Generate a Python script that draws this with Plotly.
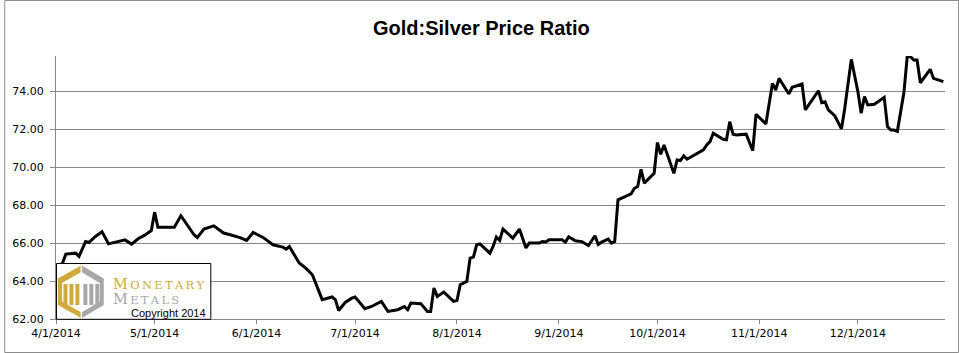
import plotly.graph_objects as go

# ---------------- data ----------------
dates = [
    "2014-04-01", "2014-04-03", "2014-04-04", "2014-04-07", "2014-04-08", "2014-04-10",
    "2014-04-11", "2014-04-13", "2014-04-15", "2014-04-17", "2014-04-22", "2014-04-24",
    "2014-04-26", "2014-04-28", "2014-04-30", "2014-05-01", "2014-05-02", "2014-05-07",
    "2014-05-09", "2014-05-13", "2014-05-14", "2014-05-16", "2014-05-19", "2014-05-22",
    "2014-05-24", "2014-05-27", "2014-05-29", "2014-05-31", "2014-06-03", "2014-06-04",
    "2014-06-06", "2014-06-09", "2014-06-10", "2014-06-11", "2014-06-12", "2014-06-14",
    "2014-06-16", "2014-06-18", "2014-06-21", "2014-06-24", "2014-06-25", "2014-06-26",
    "2014-06-28", "2014-06-30", "2014-07-01", "2014-07-04", "2014-07-06", "2014-07-09",
    "2014-07-11", "2014-07-14", "2014-07-16", "2014-07-17", "2014-07-18", "2014-07-21",
    "2014-07-23", "2014-07-24", "2014-07-25", "2014-07-26", "2014-07-28", "2014-07-31",
    "2014-08-01", "2014-08-02", "2014-08-04", "2014-08-05", "2014-08-06", "2014-08-07",
    "2014-08-08", "2014-08-11", "2014-08-12", "2014-08-13", "2014-08-14", "2014-08-15",
    "2014-08-18", "2014-08-20", "2014-08-22", "2014-08-23", "2014-08-26", "2014-08-27",
    "2014-08-28", "2014-08-29", "2014-09-02", "2014-09-03", "2014-09-04", "2014-09-06",
    "2014-09-08", "2014-09-10", "2014-09-12", "2014-09-13", "2014-09-14", "2014-09-16",
    "2014-09-17", "2014-09-18", "2014-09-19", "2014-09-22", "2014-09-23", "2014-09-24",
    "2014-09-25", "2014-09-26", "2014-09-27", "2014-09-30", "2014-10-01", "2014-10-02",
    "2014-10-03", "2014-10-06", "2014-10-07", "2014-10-08", "2014-10-09", "2014-10-10",
    "2014-10-14", "2014-10-15", "2014-10-16", "2014-10-17", "2014-10-18", "2014-10-21",
    "2014-10-22", "2014-10-23", "2014-10-24", "2014-10-25", "2014-10-28", "2014-10-30",
    "2014-10-31", "2014-11-03", "2014-11-05", "2014-11-06", "2014-11-07", "2014-11-10",
    "2014-11-11", "2014-11-13", "2014-11-14", "2014-11-15", "2014-11-17", "2014-11-19",
    "2014-11-20", "2014-11-21", "2014-11-22", "2014-11-24", "2014-11-26", "2014-11-27",
    "2014-11-29", "2014-12-01", "2014-12-02", "2014-12-03", "2014-12-04", "2014-12-06",
    "2014-12-09", "2014-12-10", "2014-12-11", "2014-12-12", "2014-12-13", "2014-12-15",
    "2014-12-16", "2014-12-17", "2014-12-18", "2014-12-19", "2014-12-20", "2014-12-23",
    "2014-12-24", "2014-12-25", "2014-12-27",
]

ratio = [
    64.60, 64.95, 65.42, 65.47, 65.30, 66.08,
    66.03, 66.35, 66.60, 65.96, 66.17, 65.95,
    66.23, 66.42, 66.66, 67.63, 66.84, 66.84,
    67.44, 66.44, 66.29, 66.74, 66.91, 66.53,
    66.44, 66.29, 66.14, 66.56, 66.30, 66.17,
    65.91, 65.79, 65.68, 65.82, 65.52, 64.95,
    64.68, 64.33, 63.02, 63.16, 63.02, 62.45,
    62.87, 63.10, 63.16, 62.54, 62.66, 62.93,
    62.40, 62.49, 62.66, 62.49, 62.84, 62.81,
    62.40, 62.40, 63.63, 63.19, 63.42, 62.93,
    62.97, 63.81, 63.98, 65.21, 65.26, 65.91,
    65.96, 65.47, 65.82, 66.32, 66.14, 66.74,
    66.26, 66.74, 65.74, 66.00, 66.00, 66.08,
    66.06, 66.17, 66.17, 66.05, 66.33, 66.12,
    66.08, 65.87, 66.38, 65.93, 66.05, 66.21,
    66.00, 66.08, 68.28, 68.49, 68.60, 68.89,
    68.98, 69.89, 69.16, 69.68, 71.30, 70.68,
    71.17, 69.68, 70.38, 70.35, 70.60, 70.42,
    70.82, 70.91, 71.17, 71.35, 71.79, 71.47,
    71.44, 72.40, 71.74, 71.70, 71.74, 70.87,
    72.79, 72.28, 74.42, 74.07, 74.68, 73.86,
    74.21, 74.33, 74.38, 73.02, 73.54, 74.03,
    73.40, 73.45, 73.02, 72.70, 72.02, 73.11,
    75.68, 73.98, 72.84, 73.72, 73.28, 73.32,
    73.68, 72.14, 71.96, 71.96, 71.89, 73.93,
    75.82, 75.82, 75.65, 75.65, 74.45, 75.16,
    74.68, 74.63, 74.51,
]

y_tick_values = [62, 64, 66, 68, 70, 72, 74]
x_tick_values = ["2014-04-01", "2014-05-01", "2014-06-01", "2014-07-01", "2014-08-01",
                 "2014-09-01", "2014-10-01", "2014-11-01", "2014-12-01"]
x_tick_labels = ["4/1/2014", "5/1/2014", "6/1/2014", "7/1/2014", "8/1/2014",
                 "9/1/2014", "10/1/2014", "11/1/2014", "12/1/2014"]

title_text = "Gold:Silver Price Ratio"
logo_word1 = "MONETARY"
logo_word2 = "METALS"
copyright_text = "Copyright 2014"

# ---------------- layout geometry ----------------
W, H = 959, 353
L, R, T, B = 52, 14, 56, 34
PW = W - L - R
PH = H - T - B

GRID = "#898989"
GOLD = "#D1AA3C"
GREY = "#A8A8A8"
THIN = "\u2009"


def px(x):
    return (x - L) / PW


def py(y):
    return (H - B - y) / PH


def path(points):
    return "M " + " L ".join(f"{px(a):.5f},{py(b):.5f}" for a, b in points) + " Z"


def spaced_word(word, big, color):
    return (f"<span style='color:{color}'><span style='font-size:{big}px'>{word[0]}</span>"
            + THIN + THIN.join(word[1:]) + "</span>")


fig = go.Figure()
fig.add_trace(go.Scatter(
    x=dates, y=ratio, mode="lines",
    line=dict(color="black", width=3),
    hoverinfo="x+y", showlegend=False,
))

shapes = []
# outer chart border
shapes.append(dict(type="rect", xref="paper", yref="paper",
                   x0=px(0.5), x1=px(958.5), y0=py(352.5), y1=py(0.5),
                   line=dict(color="#8c8c8c", width=1), layer="above"))
# logo box
shapes.append(dict(type="rect", xref="paper", yref="paper",
                   x0=px(52.5), x1=px(207.5), y0=py(319.3), y1=py(263.5),
                   fillcolor="white", line=dict(color="black", width=1), layer="above"))
# logo hexagon halves
shapes.append(dict(type="path", xref="paper", yref="paper",
                   path=path([(77, 265.5), (54, 278.5), (54, 305), (77, 318)]),
                   fillcolor=GOLD, line=dict(width=0), layer="above"))
shapes.append(dict(type="path", xref="paper", yref="paper",
                   path=path([(78, 265.5), (100, 278.5), (100, 305), (78, 318)]),
                   fillcolor=GREY, line=dict(width=0), layer="above"))
# inner white hexagon region (forms the frame)
shapes.append(dict(type="path", xref="paper", yref="paper",
                   path=path([(77.5, 272), (58, 283), (58, 301.5), (77.5, 312.5), (96, 301.5), (96, 283)]),
                   fillcolor="white", line=dict(width=0), layer="above"))
# vertical bars forming the "M M"
for (x0, x1, c) in [(59.5, 63.5, GOLD), (65.5, 69.5, GOLD), (71.5, 75.5, GOLD),
                    (79.5, 83.5, GREY), (85.5, 89.5, GREY), (91.5, 95.5, GREY)]:
    shapes.append(dict(type="rect", xref="paper", yref="paper",
                       x0=px(x0), x1=px(x1), y0=py(305), y1=py(284),
                       fillcolor=c, line=dict(width=0), layer="above"))
# seam between halves
shapes.append(dict(type="rect", xref="paper", yref="paper",
                   x0=px(76.8), x1=px(78.2), y0=py(318.5), y1=py(265),
                   fillcolor="white", line=dict(width=0), layer="above"))

annotations = [
    dict(xref="paper", yref="paper", x=px(479.5), y=py(28), xanchor="center", yanchor="middle",
         text=f"<b>{title_text}</b>", showarrow=False,
         font=dict(family="Liberation Sans, Arial, sans-serif", size=20, color="black")),
    dict(xref="paper", yref="paper", x=px(108), y=py(291), xanchor="left", yanchor="middle",
         align="left", borderpad=0,
         text=spaced_word(logo_word1, 14.5, GOLD) + "<br>" + spaced_word(logo_word2, 14.5, GREY),
         showarrow=False,
         font=dict(family="DejaVu Serif, serif", size=11.5, color=GOLD)),
    dict(xref="paper", yref="paper", x=px(204), y=py(312.5), xanchor="right", yanchor="middle",
         text=copyright_text, showarrow=False, borderpad=0,
         font=dict(family="Liberation Sans, Arial, sans-serif", size=11, color="black")),
]

fig.update_layout(
    width=W, height=H,
    margin=dict(l=L, r=R, t=T, b=B, pad=0),
    paper_bgcolor="white", plot_bgcolor="white",
    showlegend=False,
    shapes=shapes,
    annotations=annotations,
    font=dict(family="DejaVu Sans, Verdana, sans-serif", size=11, color="black"),
)

fig.update_xaxes(
    type="date",
    range=["2014-04-01", "2014-12-27 12:00"],
    tickmode="array", tickvals=x_tick_values, ticktext=x_tick_labels,
    showgrid=False, zeroline=False,
    showline=True, linecolor=GRID, linewidth=1,
    ticks="outside", ticklen=4, tickcolor=GRID, tickwidth=1,
    tickfont=dict(family="DejaVu Sans, Verdana, sans-serif", size=11, color="black"),
)

fig.update_yaxes(
    range=[62, 75.86],
    tickmode="array", tickvals=y_tick_values,
    tickformat=".2f",
    showgrid=True, gridcolor=GRID, gridwidth=1,
    zeroline=False,
    showline=True, linecolor=GRID, linewidth=1,
    ticks="outside", ticklen=5, tickcolor=GRID, tickwidth=1,
    ticklabelstandoff=4,
    tickfont=dict(family="DejaVu Sans, Verdana, sans-serif", size=11, color="black"),
)

fig.write_html("out.html")
